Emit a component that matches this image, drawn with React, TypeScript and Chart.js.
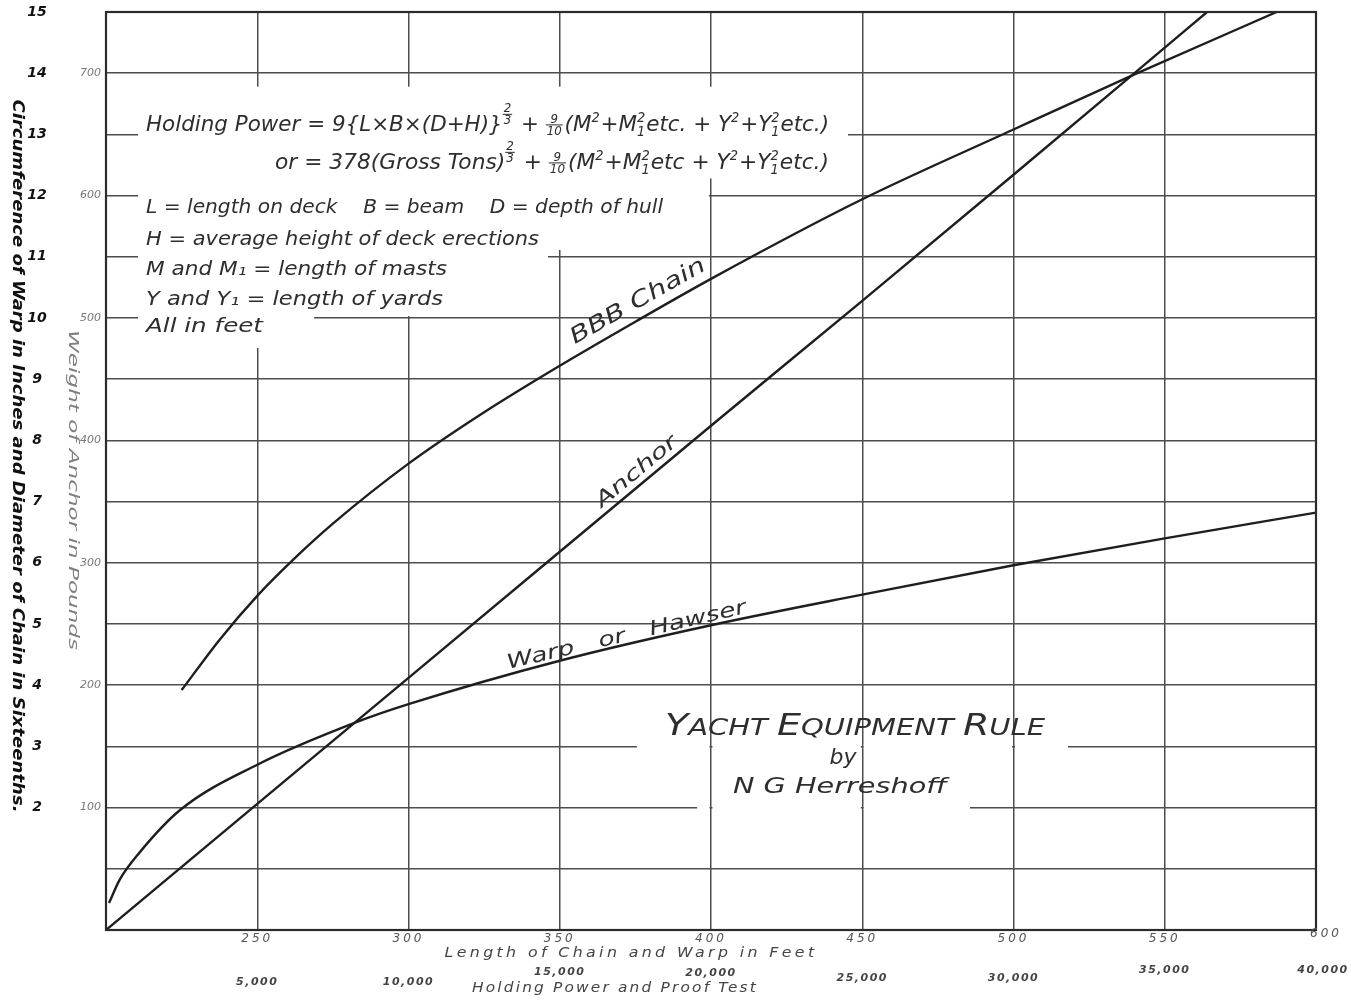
import React, { useEffect, useRef } from "react";
import { Chart, registerables } from "chart.js";

Chart.register(...registerables);

// ---------------- data ----------------
const lengthTicks = [250, 300, 350, 400, 450, 500, 550, 600];
const holdingTicks = ["5,000", "10,000", "15,000", "20,000", "25,000", "30,000", "35,000", "40,000"];
const weightTicks = [100, 200, 300, 400, 500, 600, 700];
const circumferenceTicks = [2, 3, 4, 5, 6, 7, 8, 9, 10, 11, 12, 13, 14, 15];

const anchorLength = [200, 250, 300, 350, 400, 450, 500, 540, 564];
const anchorWeight = [0, 103, 206, 309, 412, 514, 617, 700, 750];

const chainLength = [225, 237.5, 250, 262.5, 275, 300, 325, 350, 375, 400, 450, 500, 540, 587];
const chainValue = [196, 237, 273, 304, 332, 381, 423, 461, 497, 532, 597, 654, 699, 750];

const warpLength = [201, 204.5, 211, 224.5, 250, 283, 300, 350, 400, 450, 500, 550, 600];
const warpValue = [22, 41, 63, 98, 135, 170, 184.5, 220, 249, 274, 298, 320, 341];

const curveNames = ["BBB Chain", "Anchor", "Warp   or   Hawser"];

const legendLines = [
  "L = length on deck    B = beam    D = depth of hull",
  "H = average height of deck erections",
  "M and M\u2081 = length of masts",
  "Y and Y\u2081 = length of yards",
  "All in feet",
];

const leftTitle = "Circumference of Warp in Inches and Diameter of Chain in Sixteenths.";
const innerTitle = "Weight of Anchor in Pounds";
const lengthTitle = "Length of Chain and Warp in Feet";
const holdingTitle = "Holding Power and Proof Test";

// ---------------- drawing helpers ----------------
const FF = '"DejaVu Sans", "Liberation Sans", sans-serif';

type Opt = {
  size: number;
  w?: number;
  align?: "left" | "center" | "right";
  rot?: number;
  weight?: string;
  color?: string;
  ls?: number;
};

function drawLabel(ctx: CanvasRenderingContext2D, s: string, x: number, y: number, o: Opt) {
  ctx.save();
  ctx.font = `italic ${o.weight || "normal"} ${o.size}px ${FF}`;
  (ctx as any).letterSpacing = `${o.ls || 0}px`;
  ctx.fillStyle = o.color || "#333";
  ctx.textBaseline = "middle";
  ctx.textAlign = "left";
  const nat = ctx.measureText(s).width;
  const w = o.w ?? nat;
  ctx.translate(x, y);
  if (o.rot) ctx.rotate(o.rot);
  const align = o.align || "left";
  const off = align === "left" ? 0 : align === "center" ? -w / 2 : -w;
  ctx.translate(off, 0);
  ctx.scale(w / nat, 1);
  ctx.fillText(s, 0, 0);
  ctx.restore();
}

type Seg = [string, string, string?];

function richRun(ctx: CanvasRenderingContext2D, segs: Seg[], size: number, draw: boolean) {
  let x = 0;
  const f = (s: number) => `italic ${s}px ${FF}`;
  for (const [k, a, b] of segs) {
    if (k === "t" || k === "big" || k === "small") {
      const sz = k === "small" ? size * 0.76 : size;
      ctx.font = f(sz);
      if (draw) ctx.fillText(a, x, 0);
      x += ctx.measureText(a).width;
    } else if (k === "sup") {
      ctx.font = f(size * 0.6);
      if (draw) ctx.fillText(a, x, -size * 0.42);
      x += ctx.measureText(a).width + 1;
    } else if (k === "subsup") {
      ctx.font = f(size * 0.6);
      const w = Math.max(ctx.measureText(a).width, ctx.measureText(b || "").width);
      if (draw) {
        ctx.fillText(b || "", x, -size * 0.42);
        ctx.fillText(a, x, size * 0.22);
      }
      x += w + 1;
    } else if (k === "frac" || k === "fracsup") {
      const axis = k === "frac" ? -size * 0.3 : -size * 0.78;
      ctx.font = f(size * 0.55);
      const wa = ctx.measureText(a).width;
      const wb = ctx.measureText(b || "").width;
      const w = Math.max(wa, wb) + 2;
      if (draw) {
        ctx.fillText(a, x + (w - wa) / 2, axis - size * 0.08);
        ctx.fillText(b || "", x + (w - wb) / 2, axis + size * 0.48);
        ctx.fillRect(x, axis, w, 1);
      }
      x += w + 2;
    }
  }
  return x;
}

function drawRich(ctx: CanvasRenderingContext2D, segs: Seg[], size: number, x: number, baseY: number, targetW: number, color: string) {
  ctx.save();
  ctx.fillStyle = color;
  ctx.textBaseline = "alphabetic";
  ctx.textAlign = "left";
  const nat = richRun(ctx, segs, size, false);
  ctx.translate(x, baseY);
  ctx.scale(targetW / nat, 1);
  richRun(ctx, segs, size, true);
  ctx.restore();
}

function interp(xs: number[], ys: number[], v: number) {
  if (v <= xs[0]) return ys[0];
  for (let i = 1; i < xs.length; i++) {
    if (v <= xs[i]) {
      const t = (v - xs[i - 1]) / (xs[i] - xs[i - 1]);
      return ys[i - 1] + t * (ys[i] - ys[i - 1]);
    }
  }
  return ys[ys.length - 1];
}

const formula1: Seg[] = [
  ["t", "Holding Power = 9{L\u00d7B\u00d7(D+H)}"],
  ["fracsup", "2", "3"],
  ["t", " + "],
  ["frac", "9", "10"],
  ["t", "(M"], ["sup", "2"], ["t", "+M"], ["subsup", "1", "2"],
  ["t", "etc. + Y"], ["sup", "2"], ["t", "+Y"], ["subsup", "1", "2"], ["t", "etc.)"],
];
const formula2: Seg[] = [
  ["t", "or = 378(Gross Tons)"],
  ["fracsup", "2", "3"],
  ["t", " + "],
  ["frac", "9", "10"],
  ["t", "(M"], ["sup", "2"], ["t", "+M"], ["subsup", "1", "2"],
  ["t", "etc + Y"], ["sup", "2"], ["t", "+Y"], ["subsup", "1", "2"], ["t", "etc.)"],
];
const titleSegs: Seg[] = [
  ["big", "Y"], ["small", "ACHT "], ["big", "E"], ["small", "QUIPMENT "], ["big", "R"], ["small", "ULE"],
];

// blank (white) areas behind the lettering, in data units [x0, x1, y0, y1]
const BLANKS = [
  [210.6, 445.3, 614, 689],
  [210.6, 399.3, 555.6, 614.4],
  [210.6, 346.1, 501.6, 555.6],
  [210.6, 268.8, 475.5, 501.6],
];
// horizontal grid gaps [yValue, x0, x1]
const GAPS = [
  [150, 375.5, 518],
  [100, 395.4, 485.6],
];

const paperPlugin = {
  id: "paper",
  beforeDatasetsDraw(chart: any) {
    const { ctx, scales } = chart;
    const sx = scales.x;
    const sy = scales.y;
    ctx.save();
    ctx.fillStyle = "#ffffff";
    for (const [x0, x1, y0, y1] of BLANKS) {
      const L = sx.getPixelForValue(x0);
      const R = sx.getPixelForValue(x1);
      const T = sy.getPixelForValue(y1);
      const B = sy.getPixelForValue(y0);
      ctx.fillRect(L, T, R - L, B - T);
    }
    for (const [yv, x0, x1] of GAPS) {
      const py = sy.getPixelForValue(yv);
      const L = sx.getPixelForValue(x0);
      const R = sx.getPixelForValue(x1);
      let start = L;
      for (let v = 200; v <= 600; v += 50) {
        const p = sx.getPixelForValue(v);
        if (p > L && p < R) {
          ctx.fillRect(start, py - 2.5, p - 1.5 - start, 5);
          start = p + 1.5;
        }
      }
      ctx.fillRect(start, py - 2.5, R - start, 5);
    }
    ctx.restore();
  },
  afterDraw(chart: any) {
    const { ctx, chartArea: a, scales } = chart;
    const sx = scales.x;
    const sy = scales.y;
    ctx.save();
    ctx.strokeStyle = "#2b2b2b";
    ctx.lineWidth = 2.2;
    ctx.strokeRect(a.left, a.top, a.right - a.left, a.bottom - a.top);
    ctx.restore();

    const ink = "#2e2e2e";
    // formula
    drawRich(ctx, formula1, 22, 146, 131, 683, ink);
    drawRich(ctx, formula2, 22, 275, 169, 554, ink);
    const legendY = [208, 240, 270, 300, 327];
    const legendW = [517, 393, 301, 297, 117];
    legendLines.forEach((s, i) => drawLabel(ctx, s, 146, legendY[i], { size: 20, w: legendW[i], color: ink }));

    // title block
    drawRich(ctx, titleSegs, 30, 665, 735, 380, ink);
    drawLabel(ctx, "by", 843, 758, { size: 22, align: "center", color: ink });
    drawLabel(ctx, "N G Herreshoff", 840, 787, { size: 22, w: 214, align: "center", color: ink });

    // curve labels
    const onCurve = (xs: number[], ys: number[], xv: number, off: number, text: string, size: number, w: number) => {
      const p1x = sx.getPixelForValue(xv - 5), p1y = sy.getPixelForValue(interp(xs, ys, xv - 5));
      const p2x = sx.getPixelForValue(xv + 5), p2y = sy.getPixelForValue(interp(xs, ys, xv + 5));
      const ang = Math.atan2(p2y - p1y, p2x - p1x);
      const cx = sx.getPixelForValue(xv);
      const cy = sy.getPixelForValue(interp(xs, ys, xv));
      drawLabel(ctx, text, cx + Math.sin(ang) * off, cy - Math.cos(ang) * off, {
        size, w, align: "center", rot: ang, color: ink,
      });
    };
    onCurve(chainLength, chainValue, 378.5, 16, curveNames[0], 22, 152);
    onCurve(anchorLength, anchorWeight, 378, 12, curveNames[1], 20, 100);
    onCurve(warpLength, warpValue, 372.8, 9, curveNames[2], 20, 245);

    // left outer scale (circumference) - 1 unit per 50 lb
    circumferenceTicks.forEach((n) => {
      drawLabel(ctx, String(n), 37, sy.getPixelForValue(n * 50), { size: 14, weight: "bold", align: "center", color: "#111" });
    });
    drawLabel(ctx, leftTitle, 17, 456, { size: 16, w: 713, align: "center", rot: Math.PI / 2, weight: "bold", color: "#111" });

    // inner scale (weight of anchor)
    weightTicks.forEach((v) => {
      drawLabel(ctx, String(v), 101, sy.getPixelForValue(v), { size: 11, align: "right", color: "#777" });
    });
    drawLabel(ctx, innerTitle, 73, 490, { size: 14, w: 320, align: "center", rot: Math.PI / 2, color: "#808080" });

    // bottom scales
    lengthTicks.forEach((v, i) => {
      const yy = i === lengthTicks.length - 1 ? 934 : 939;
      drawLabel(ctx, String(v), sx.getPixelForValue(v) + (i === lengthTicks.length - 1 ? 10 : 0), yy, {
        size: 12, align: "center", color: "#555", ls: 3,
      });
    });
    drawLabel(ctx, lengthTitle, 631, 953, { size: 14, w: 373, align: "center", color: "#444", ls: 3 });
    const holdY = [982, 982, 972, 973, 978, 978, 970, 970];
    holdingTicks.forEach((s, i) => {
      const px = sx.getPixelForValue(lengthTicks[i]) + (i === holdingTicks.length - 1 ? 7 : 0);
      drawLabel(ctx, s, px, holdY[i], { size: 11, align: "center", color: "#444", weight: "bold", ls: 1.5 });
    });
    drawLabel(ctx, holdingTitle, 615, 988, { size: 14, w: 286, align: "center", color: "#444", ls: 2 });
  },
};

export default function App() {
  const ref = useRef<HTMLCanvasElement>(null);
  useEffect(() => {
    document.body.style.margin = "0";
    const canvas = ref.current!;
    const line = (xs: number[], ys: number[], label: string) => ({
      label,
      data: xs.map((x, i) => ({ x, y: ys[i] })),
      showLine: true,
      borderColor: "#1e1e1e",
      borderWidth: 2.4,
      pointRadius: 0,
      cubicInterpolationMode: "monotone" as const,
      fill: false,
    });
    const chart = new Chart(canvas, {
      type: "scatter",
      data: {
        datasets: [
          line(chainLength, chainValue, curveNames[0]),
          line(anchorLength, anchorWeight, curveNames[1]),
          line(warpLength, warpValue, curveNames[2]),
        ],
      },
      options: {
        animation: false,
        responsive: false,
        devicePixelRatio: 1,
        events: [],
        layout: { padding: { left: 106, right: 35, top: 12, bottom: 75 } },
        plugins: { legend: { display: false }, tooltip: { enabled: false }, title: { display: false } },
        scales: {
          x: {
            type: "linear",
            min: 200,
            max: 600,
            ticks: { display: false, stepSize: 50 },
            grid: { color: "#4d4d4d", lineWidth: 1.5, drawTicks: false },
            border: { display: false },
            afterFit: (s: any) => { s.height = 0; },
          },
          y: {
            type: "linear",
            min: 0,
            max: 750,
            ticks: { display: false, stepSize: 50 },
            grid: { color: "#4d4d4d", lineWidth: 1.5, drawTicks: false },
            border: { display: false },
            afterFit: (s: any) => { s.width = 0; },
          },
        },
      } as any,
      plugins: [paperPlugin],
    });
    return () => chart.destroy();
  }, []);
  return (
    <div style={{ width: 1351, height: 1005, background: "#fff" }}>
      <canvas ref={ref} width={1351} height={1005} style={{ display: "block" }} />
    </div>
  );
}
